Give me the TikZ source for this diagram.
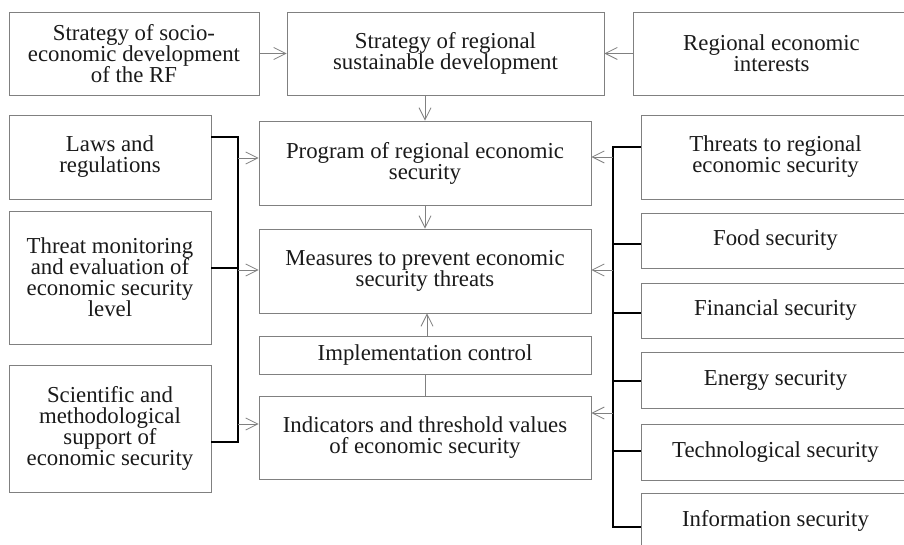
\documentclass[tikz,border=0pt]{standalone}
\usepackage{fontspec}
\setmainfont{Liberation Serif}
\usetikzlibrary{arrows.meta,calc}
\definecolor{boxgray}{HTML}{808080}
\definecolor{txt}{HTML}{1A1A1A}
\tikzset{
  box/.style={draw=boxgray, line width=0.9pt, rectangle, inner sep=0pt, align=center,
    text=txt, font=\fontsize{22.8}{21}\selectfont},
  bus/.style={draw=black, line width=1.3pt},
  garrow/.style={draw=boxgray, line width=0.8pt, -{Straight Barb[length=12pt,width=12pt,line width=0.8pt]}},
  gline/.style={draw=boxgray, line width=0.8pt}
}
\newcommand{\bx}[6]{% name, x1, y1, x2, y2, text
  \node[box, minimum width=#4pt-#2pt, minimum height=#5pt-#3pt] (#1) at ({(#2+#4)/2},{(#3+#5)/2}) {#6};}
\begin{document}
\begin{tikzpicture}[x=1pt,y=-1pt]
\useasboundingbox (0,0) rectangle (904,545);
\clip (0,0) rectangle (904,545);
\fill[white] (0,0) rectangle (904,545);
% top row
\bx{strat}{9}{12}{259}{95}{Strategy of socio-\\economic development\\of the RF}
\bx{sust}{287}{12}{604}{95}{Strategy of regional\\sustainable development}
\bx{inter}{633}{12}{910}{95}{Regional economic\\interests}
% left column
\bx{laws}{9}{115}{211}{199}{Laws and\\regulations}
\bx{monit}{9}{211}{211}{344}{Threat monitoring\\and evaluation of\\economic security\\level}
\bx{scien}{9}{365}{211}{492}{Scientific and\\methodological\\support of\\economic security}
% center column
\bx{prog}{259}{121}{591}{205}{Program of regional economic\\security}
\bx{meas}{259}{229}{591}{313}{Measures to prevent economic\\security threats}
\bx{impl}{259}{336}{591}{374}{Implementation control}
\bx{indic}{259}{396}{591}{479}{Indicators and threshold values\\of economic security}
% right column
\bx{threat}{641}{115}{910}{199}{Threats to regional\\economic security}
\bx{food}{641}{213}{910}{268}{Food security}
\bx{fin}{641}{283}{910}{338}{Financial security}
\bx{energy}{641}{352}{910}{408}{Energy security}
\bx{tech}{641}{424}{910}{480}{Technological security}
\bx{info}{641}{493}{910}{549}{Information security}
% top arrows
\draw[garrow] (strat.east) -- (sust.west);
\draw[garrow] (inter.west) -- (sust.east);
\draw[garrow] (sust.south -| prog.north) -- (prog.north);
\draw[garrow] (prog.south) -- (meas.north);
\draw[garrow] ($(impl.north)+(2,0)$) -- ($(meas.south)+(2,0)$);
\draw[gline] (indic.north) -- (impl.south);
% left bus
\coordinate (lb1) at (238,137);
\coordinate (lb2) at (238,268);
\coordinate (lb3) at (238,442);
\draw[bus] (laws.east |- lb1) -- (lb1) -- (lb3) -- (scien.east |- lb3);
\draw[bus] (monit.east |- lb2) -- (lb2);
\coordinate (la1) at (238,158);
\coordinate (la2) at (238,270);
\coordinate (la3) at (238,424);
\draw[garrow] (la1) -- (prog.west |- la1);
\draw[garrow] (la2) -- (meas.west |- la2);
\draw[garrow] (la3) -- (indic.west |- la3);
% right bus
\coordinate (rb1) at (613,147);
\coordinate (rb2) at (613,244);
\coordinate (rb3) at (613,313);
\coordinate (rb4) at (613,381);
\coordinate (rb5) at (613,451);
\coordinate (rb6) at (613,527);
\draw[bus] (threat.west |- rb1) -- (rb1) -- (rb6) -- (info.west |- rb6);
\draw[bus] (food.west |- rb2) -- (rb2);
\draw[bus] (fin.west |- rb3) -- (rb3);
\draw[bus] (energy.west |- rb4) -- (rb4);
\draw[bus] (tech.west |- rb5) -- (rb5);
\coordinate (ra1) at (613,157);
\coordinate (ra2) at (613,270);
\coordinate (ra3) at (613,413);
\draw[garrow] (ra1) -- (prog.east |- ra1);
\draw[garrow] (ra2) -- (meas.east |- ra2);
\draw[garrow] (ra3) -- (indic.east |- ra3);
\end{tikzpicture}
\end{document}
